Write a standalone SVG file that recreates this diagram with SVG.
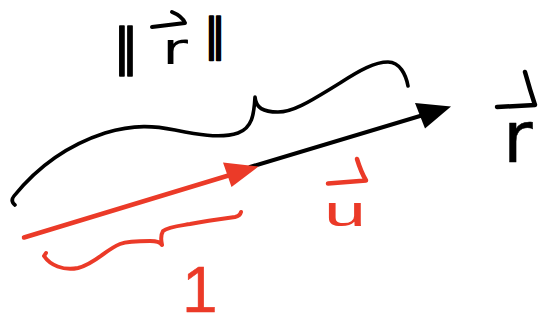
<svg xmlns="http://www.w3.org/2000/svg" width="538" height="326" viewBox="0 0 538 326">
<style>
.blk{fill:none;stroke:#000;stroke-linecap:round;stroke-linejoin:round}
.red{fill:none;stroke:#EB3A28;stroke-linecap:round;stroke-linejoin:round}
.tb{fill:#000;stroke:#000;stroke-linejoin:round;font-family:"DejaVu Sans","Liberation Sans",sans-serif}
.tr{fill:#EB3A28;stroke:#EB3A28;stroke-linejoin:round;font-family:"Liberation Sans","DejaVu Sans",sans-serif}
</style>
<rect width="538" height="326" fill="#fff"/>
<g id="connectors">
  <g id="vec-r">
    <line class="blk" x1="250" y1="167" x2="430" y2="113" stroke-width="4"/>
    <polygon points="451,106.5 415,103 425,128.5" fill="#000"/>
  </g>
  <g id="vec-u">
    <line class="red" x1="24" y1="237.5" x2="240" y2="172" stroke-width="4.5"/>
    <polygon points="258.5,166.5 223,162.5 231.5,187" fill="#EB3A28"/>
  </g>
</g>
<g id="brace-r">
  <path class="blk" stroke-width="3.6" d="M15,205 Q10,201 14,196 C35,170 65,146 105,133 C135,124 155,126 175,130 C195,134 220,139 238,133 C252,128 254,115 255,97 C256,108 263,112 278,112 C295,112 315,98 340,83 C360,70 375,62 388,62 C400,62 406,75 408,86"/>
</g>
<g id="brace-u">
  <path class="red" stroke-width="4" d="M241,212 Q240,216 235,217 C220,219 205,221 190,224 C178,226 168,227 163,231 Q160,236 162,245 Q160,241 150,241 C140,241 128,241 120,244 C105,250 95,264 78,268 C63,271 50,265 44,256 L46,253"/>
</g>
<g id="label-norm">
  <text class="tb" x="126" y="64" font-size="50" stroke-width="1.6" text-anchor="middle">‖</text>
  <text class="tb" x="162" y="64" font-size="44" stroke-width="0" textLength="26" lengthAdjust="spacingAndGlyphs">r</text>
  <path class="blk" stroke-width="4" d="M152,27 L185,23 Q182,16 172,12"/>
  <text class="tb" x="215" y="50" font-size="44" stroke-width="1.6" text-anchor="middle">‖</text>
</g>
<g id="label-r">
  <text class="tb" x="503" y="162" font-size="72" stroke-width="0.5">r</text>
  <path class="blk" stroke-width="4.5" d="M497,107 L535,105 Q530,90 525,72"/>
</g>
<g id="label-u">
  <text class="tr" x="324" y="226" font-size="42" stroke-width="0" textLength="42" lengthAdjust="spacingAndGlyphs">u</text>
  <path class="red" stroke-width="4.5" d="M328,183.5 L366,180.5 Q361,172 357,159"/>
</g>
<g id="label-one">
  <text class="tr" x="182" y="312" font-size="64" stroke-width="0.5">1</text>
</g>
</svg>
